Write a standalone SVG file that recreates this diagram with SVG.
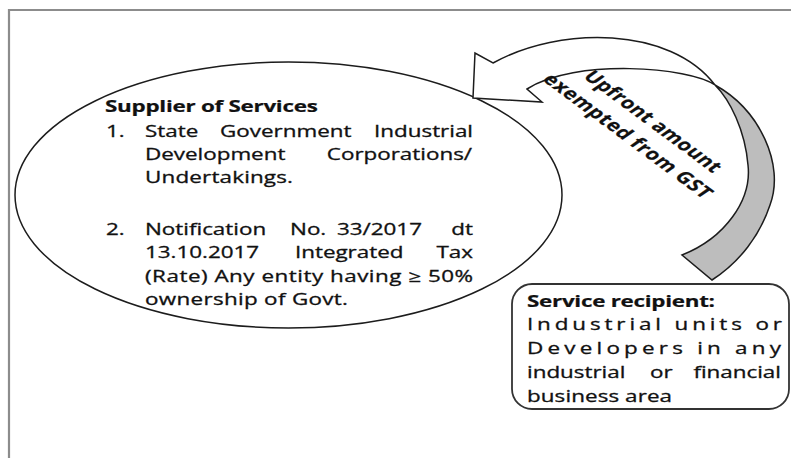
<svg xmlns="http://www.w3.org/2000/svg" width="791" height="458" viewBox="0 0 791 458">
<style>
  text { font-family: "Open Sans", "Liberation Sans", sans-serif; font-size: 16px; fill: #111111; stroke: #111111; stroke-width: 0.3; }
  .b { font-weight: bold; stroke-width: 0.2; }
  .e { text-anchor: end; }
  .ln { fill: none; stroke: #1c1c1c; stroke-width: 1.5; }
</style>
<rect x="0" y="0" width="791" height="458" fill="#ffffff"/>
<g id="frame">
  <path d="M9,458 V10 H791" fill="none" stroke="#8c8c8c" stroke-width="2.2"/>
</g>
<g id="supplier">
  <ellipse cx="288.5" cy="195" rx="273.5" ry="133" fill="#ffffff" stroke="#1c1c1c" stroke-width="1.5"/>
  <g transform="translate(105,112) scale(1.4,1)"><text class="b" textLength="152" lengthAdjust="spacing">Supplier of Services</text></g>
  <g transform="translate(106,136.5) scale(1.4,1)"><text>1.</text></g>
  <g transform="translate(145,136.5) scale(1.4,1)">
    <text x="0">State</text><text x="53.6">Government</text><text x="234.3" class="e">Industrial</text>
  </g>
  <g transform="translate(145,160) scale(1.4,1)">
    <text x="0">Development</text><text x="233.6" class="e">Corporations/</text>
  </g>
  <g transform="translate(145,183) scale(1.4,1)"><text textLength="105.7" lengthAdjust="spacing">Undertakings.</text></g>
  <g transform="translate(106,235) scale(1.4,1)"><text>2.</text></g>
  <g transform="translate(145,235) scale(1.4,1)">
    <text x="0">Notification</text><text x="103.6">No.</text><text x="137.1">33/2017</text><text x="234.3" class="e">dt</text>
  </g>
  <g transform="translate(145,258) scale(1.4,1)">
    <text x="0">13.10.2017</text><text x="107.1">Integrated</text><text x="234.3" class="e">Tax</text>
  </g>
  <g transform="translate(145,282) scale(1.4,1)"><text textLength="234.3" lengthAdjust="spacing">(Rate) Any entity having ≥ 50%</text></g>
  <g transform="translate(145,305) scale(1.4,1)"><text textLength="145" lengthAdjust="spacing">ownership of Govt.</text></g>
</g>
<g id="recipient">
  <rect x="512" y="284" width="277" height="125" rx="20" ry="20" fill="#ffffff" stroke="#333333" stroke-width="1.8"/>
  <g transform="translate(527,307) scale(1.4,1)"><text class="b" textLength="134.3" lengthAdjust="spacing">Service recipient:</text></g>
  <g transform="translate(527,330) scale(1.4,1)"><text textLength="182.1" lengthAdjust="spacing">Industrial units or</text></g>
  <g transform="translate(527,354) scale(1.4,1)"><text textLength="181.4" lengthAdjust="spacing">Developers in any</text></g>
  <g transform="translate(527,378) scale(1.4,1)">
    <text x="0">industrial</text><text x="87.9">or</text><text x="181.4" class="e">financial</text>
  </g>
  <g transform="translate(527,402) scale(1.4,1)"><text textLength="103.6" lengthAdjust="spacing">business area</text></g>
</g>
<g id="connectors">
  <path class="ln" d="M715,85 C760,110 785,165 770,205 C760,235 740,262 712,280 L682,255 C725,238 752,200 748,165 C745,130 730,100 715,85 Z" style="fill:#bdbdbd"/>
  <path class="ln" d="M493,63 C560,26 670,26 715,85 C690,67 575,58 527,89 L542,102 L473,98 L475,53 Z" style="fill:#ffffff"/>
  <g transform="scale(1.4,1)">
    <text class="b" x="416" y="77" transform="rotate(46 416 77)" textLength="134" lengthAdjust="spacing">Upfront amount</text>
    <text class="b" x="387" y="80" transform="rotate(46 387 80)" textLength="166" lengthAdjust="spacing">exempted from GST</text>
  </g>
</g>
</svg>
